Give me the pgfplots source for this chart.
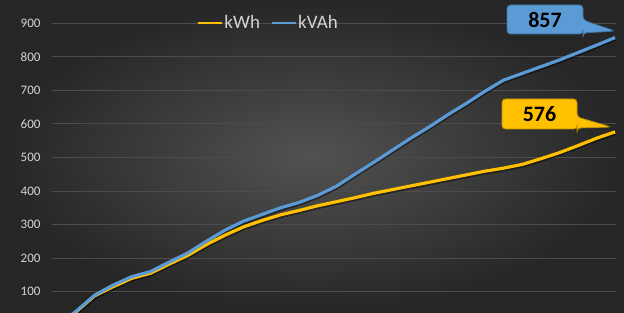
\documentclass[border=0pt]{standalone}
\usepackage{pgfplots}
\pgfplotsset{compat=1.18}
\usepackage{fontspec}
\setmainfont{Carlito}
\definecolor{bgin}{HTML}{525252}
\definecolor{bgout}{HTML}{262626}
\definecolor{gridc}{HTML}{4C4C4C}
\definecolor{tickc}{HTML}{D4D4D4}
\definecolor{kvah}{HTML}{5B9BD5}
\definecolor{kvahd}{HTML}{41719C}
\definecolor{kwh}{HTML}{FFC000}
\definecolor{kwhd}{HTML}{BF9000}
\pgfplotstableread{
d kwh kvah
0 0 0
1 40 42
2 88 90
3 115 120
4 140 145
5 155 160
6 182 188
7 208 215
8 240 250
9 268 283
10 293 310
11 312 330
12 329 350
13 342 366
14 356 387
15 368 414
16 380 450
17 393 485
18 404 521
19 415 557
20 426 591
21 437 627
22 448 661
23 459 697
24 468 730
25 479 750
26 496 770
27 514 790
28 535 812
29 557 834
30 576 857
}\datatab
\begin{document}
\begin{tikzpicture}[x=1pt,y=1pt]
\shade[inner color=bgin,outer color=bgout] (0,0) rectangle (624,313);
\useasboundingbox (0,0) rectangle (624,313);
\begin{axis}[
  at={(52pt,0pt)}, anchor=south west,
  scale only axis, width=564pt, height=313pt,
  xmin=-0.3, xmax=30.05, ymin=36.6, ymax=968.7,
  axis line style={draw=none}, major tick length=0pt,
  ymajorgrids, grid style={gridc, line width=0.7pt},
  ytick={100,200,...,900}, xtick=\empty,
  yticklabel style={font=\fontsize{13}{13}\selectfont, text=tickc, anchor=east, xshift=-8pt},
  /pgf/number format/assume math mode=true,
  legend columns=2,
  legend style={at={(0.383,0.927)}, anchor=center, draw=none, fill=none,
    nodes={text=tickc, font=\fontsize{19}{21}\selectfont, inner xsep=1.5pt},
    /tikz/every odd column/.append style={column sep=0pt},
    /tikz/every even column/.append style={column sep=9pt}},
  legend image code/.code={\draw[#1, line width=2.2pt] (0pt,0pt) -- (24pt,0pt);},
]
\addplot[black, opacity=0.45, line width=4.8pt, forget plot, yshift=-1pt] table[x=d,y=kwh]{\datatab};
\addplot[black, opacity=0.45, line width=4.8pt, forget plot, yshift=-1pt] table[x=d,y=kvah]{\datatab};
\addplot[kwh, line width=3.2pt] table[x=d,y=kwh]{\datatab};
\addlegendentry{kWh}
\addplot[kvah, line width=3.2pt] table[x=d,y=kvah]{\datatab};
\addlegendentry{kVAh}
\end{axis}
% callouts (pixel coords, y flipped)
\filldraw[fill=kvah, draw=kvahd, line width=0.8pt, rounded corners=3.5pt]
  (507,313-5) -- (583,313-5) -- (583,313-20) -- (615,313-31) -- (583,313-33) -- (583,313-34) -- (507,313-34) -- cycle;
\node[font=\fontsize{22}{22}\selectfont\bfseries, text=black] at (545,313-20) {857};
\filldraw[fill=kwh, draw=kwhd, line width=0.8pt, rounded corners=3.5pt]
  (502,313-99) -- (577,313-99) -- (577,313-117) -- (611,313-127) -- (577,313-128) -- (577,313-129) -- (502,313-129) -- cycle;
\node[font=\fontsize{22}{22}\selectfont\bfseries, text=black] at (539.5,313-114) {576};
\end{tikzpicture}
\end{document}
